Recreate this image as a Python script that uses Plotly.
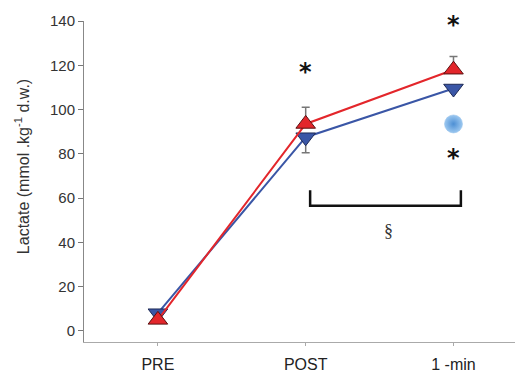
import plotly.graph_objects as go

categories = ["PRE", "POST", "1 -min"]
red_values = [5, 93.5, 118]
red_err_plus = [0, 7.5, 6]
blue_values = [8, 87.5, 109.5]
blue_err_minus = [0, 7, 0]
circle_cat = "1 -min"
circle_value = 93.5
star_labels = [("POST", 117), ("1 -min", 138), ("1 -min", 78)]
bracket_x = [1.03, 2.05]
bracket_y = [56.5, 63.5]
section_pos = (1.56, 45)
y_ticks = [0, 20, 40, 60, 80, 100, 120, 140]
y_title = "Lactate (mmol .kg<sup>-1</sup> d.w.)"

RED = "#e3262b"
BLUE = "#3a56a6"

fig = go.Figure()
xi = list(range(len(categories)))

fig.add_trace(go.Scatter(
    x=xi, y=blue_values, mode="lines+markers",
    line=dict(color=BLUE, width=2),
    marker=dict(symbol="triangle-down", size=17, color=BLUE, line=dict(color="#1e2a55", width=1)),
    error_y=dict(type="data", symmetric=False, array=[0, 0, 0], arrayminus=blue_err_minus,
                 color="#777", thickness=1.5, width=4),
    showlegend=False))
fig.add_trace(go.Scatter(
    x=xi, y=red_values, mode="lines+markers",
    line=dict(color=RED, width=2),
    marker=dict(symbol="triangle-up", size=17, color=RED, line=dict(color="#5a1010", width=1)),
    error_y=dict(type="data", symmetric=False, array=red_err_plus, arrayminus=[0, 0, 0],
                 color="#777", thickness=1.5, width=4),
    showlegend=False))
fig.add_trace(go.Scatter(
    x=[categories.index(circle_cat)], y=[circle_value], mode="markers",
    marker=dict(symbol="circle", size=18, color="#9cc8f0",
                gradient=dict(type="radial", color="#4d8fd4"),
                line=dict(color="#8fbce8", width=0.5)),
    showlegend=False))

for cat, val in star_labels:
    fig.add_annotation(x=categories.index(cat), y=val, text="<b>*</b>", showarrow=False,
                       font=dict(size=24, color="#111", family="DejaVu Sans"))

fig.add_shape(type="path",
              path=f"M {bracket_x[0]} {bracket_y[1]} L {bracket_x[0]} {bracket_y[0]} L {bracket_x[1]} {bracket_y[0]} L {bracket_x[1]} {bracket_y[1]}",
              line=dict(color="#111", width=2.5), xref="x", yref="y")
fig.add_annotation(x=section_pos[0], y=section_pos[1], text="§", showarrow=False,
                   font=dict(size=18, color="#333", family="Liberation Serif"))

# y-axis title placed as a rotated annotation (sits above the plot centre in the reference)
fig.add_annotation(xref="paper", yref="paper", x=-0.142, y=0.545, text=y_title,
                   xanchor="center", yanchor="middle",
                   textangle=-90, showarrow=False, font=dict(size=16, color="#333"))

# page body has an 8px default margin, so the figure is sized to fit inside the window
fig.update_layout(
    width=515, height=366,
    margin=dict(l=76, r=3, t=13, b=32),
    paper_bgcolor="white", plot_bgcolor="white",
    font=dict(family="Liberation Sans, Arial", color="#333"),
)
fig.update_xaxes(
    range=[-0.5, 2.45], tickvals=xi, ticktext=categories, automargin=False,
    showline=True, linecolor="#aaa", linewidth=1,
    ticks="outside", ticklen=3, tickcolor="#aaa", ticklabelstandoff=5,
    showgrid=False, zeroline=False, tickfont=dict(size=16, color="#222"))
fig.update_yaxes(
    range=[-5, 140], tickvals=y_ticks, automargin=False,
    showline=True, linecolor="#888", linewidth=1,
    ticks="outside", ticklen=5, tickcolor="#777",
    showgrid=False, zeroline=False, tickfont=dict(size=15, color="#333"))

fig.write_html("out.html")
